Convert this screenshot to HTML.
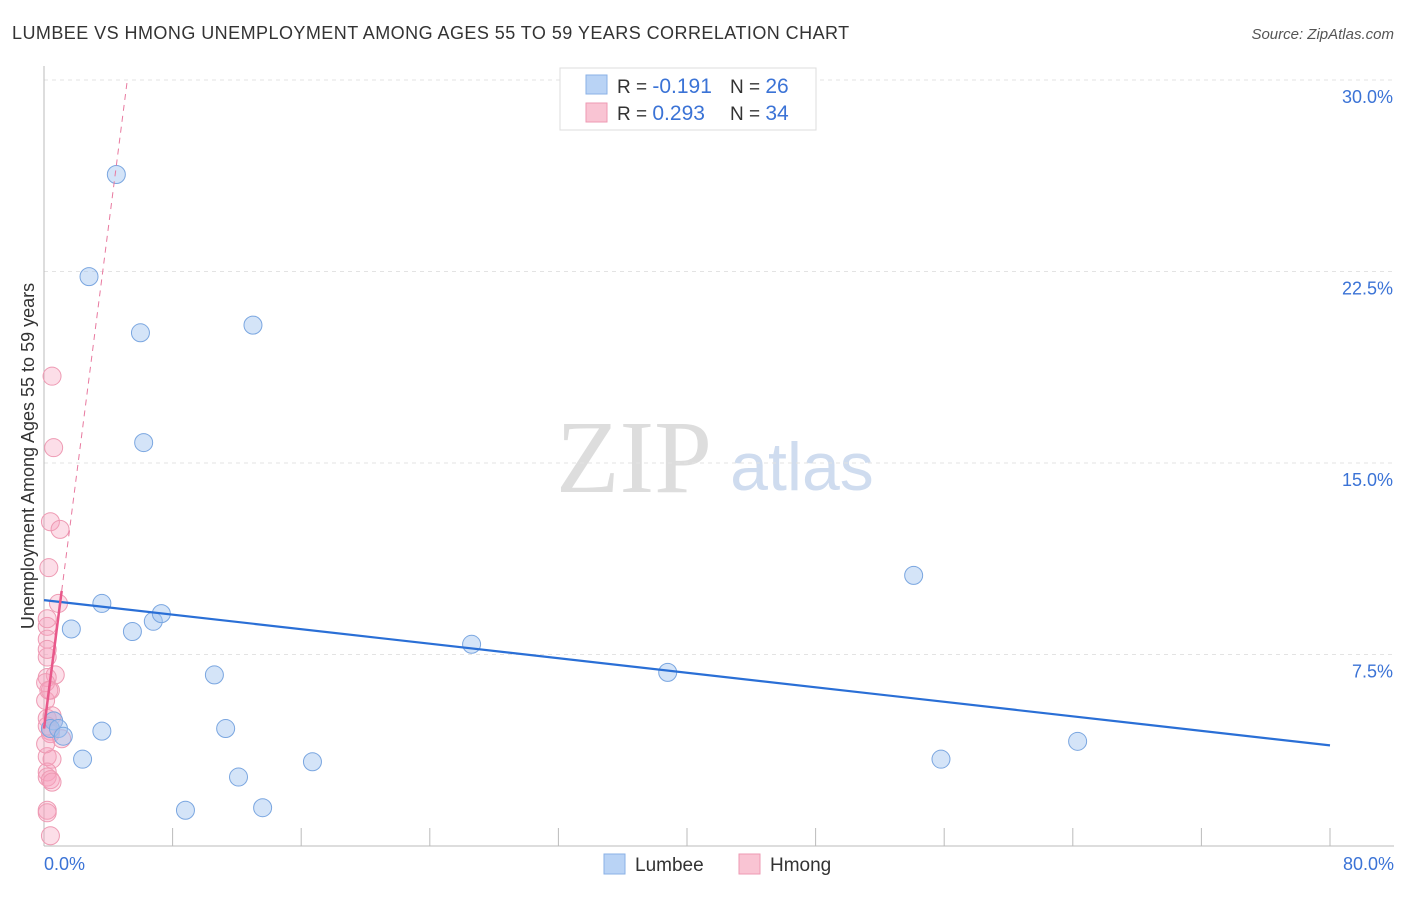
<!DOCTYPE html>
<html><head><meta charset="utf-8"><style>
body{margin:0;background:#fff;font-family:"Liberation Sans",sans-serif;}
#wrap{position:relative;width:1406px;height:892px;}
</style></head><body>
<div id="wrap">
<svg id="chart" width="1406" height="892" xmlns="http://www.w3.org/2000/svg">
<text x="12" y="39" font-size="18" letter-spacing="0.45" fill="#333">LUMBEE VS HMONG UNEMPLOYMENT AMONG AGES 55 TO 59 YEARS CORRELATION CHART</text>
<text x="1394" y="39" font-size="15" fill="#555" font-style="italic" text-anchor="end">Source: ZipAtlas.com</text>
<text x="634" y="492" font-size="104" fill="#ddd" font-family="Liberation Serif" text-anchor="middle">ZIP</text>
<text x="802" y="490" font-size="68" fill="#cfdcef" text-anchor="middle">atlas</text>
<text transform="translate(34,456) rotate(-90)" font-size="18" fill="#333" text-anchor="middle">Unemployment Among Ages 55 to 59 years</text>
<g id="grid"></g><g id="marks"></g>
<g>
<rect x="560" y="68" width="256" height="62" fill="#fff" stroke="#ddd"/>
<rect x="586" y="75" width="21" height="19" fill="#b9d3f5" stroke="#8ab0e6"/>
<rect x="586" y="103" width="21" height="19" fill="#f9c4d3" stroke="#ee9ab3"/>
<text x="617" y="93" font-size="19" fill="#333">R = <tspan fill="#3b73d6" font-size="21">-0.191</tspan></text>
<text x="730" y="93" font-size="19" fill="#333">N = <tspan fill="#3b73d6" font-size="21">26</tspan></text>
<text x="617" y="120" font-size="19" fill="#333">R = <tspan fill="#3b73d6" font-size="21">0.293</tspan></text>
<text x="730" y="120" font-size="19" fill="#333">N = <tspan fill="#3b73d6" font-size="21">34</tspan></text>
</g>
<g>
<rect x="604" y="854" width="21" height="20" fill="#b9d3f5" stroke="#8ab0e6"/>
<text x="635" y="871" font-size="19" fill="#333">Lumbee</text>
<rect x="739" y="854" width="21" height="20" fill="#f9c4d3" stroke="#ee9ab3"/>
<text x="770" y="871" font-size="19" fill="#333">Hmong</text>
</g>
</svg></div>
<script>
const yTicks=[7.5,15,22.5,30];
const yTickLabels=["7.5%","15.0%","22.5%","30.0%"];
const xTickLabels=["0.0%","80.0%"];
const lumbeeX=[4.5,2.8,6.0,13.0,6.2,54.1,3.6,1.7,5.5,6.8,7.3,26.6,10.6,38.8,0.6,0.4,0.9,1.2,3.6,11.3,64.3,2.4,16.7,55.8,12.1,8.8,13.6];
const lumbeeY=[26.3,22.3,20.1,20.4,15.8,10.6,9.5,8.5,8.4,8.8,9.1,7.9,6.7,6.8,4.9,4.6,4.6,4.3,4.5,4.6,4.1,3.4,3.3,3.4,2.7,1.4,1.5];
const hmongX=[0.5,0.6,0.4,1.0,0.3,0.9,0.2,0.2,0.2,0.7,0.2,0.4,0.1,0.2,0.5,0.6,0.4,1.1,0.2,0.5,0.2,0.2,0.4,0.5,0.2,0.2,0.4,0.2,0.1,0.2,0.4,0.1,0.3,0.2];
const hmongY=[18.4,15.6,12.7,12.4,10.9,9.5,8.6,8.1,7.4,6.7,6.6,6.1,5.7,5.0,5.1,4.9,4.5,4.2,3.5,3.4,2.9,2.7,2.6,2.5,1.4,1.3,0.4,7.7,6.4,4.7,4.4,4.0,6.1,8.9];
const lumbeeTrend=[9.63,3.94];
const hmongTrend=[4.6,4.9];
const X=v=>44+v/80*1286, Y=v=>846-v/30*766;
const NS="http://www.w3.org/2000/svg";
const grid=document.getElementById('grid'), marks=document.getElementById('marks');
function mk(tag,attrs,parent){const e=document.createElementNS(NS,tag);for(const k in attrs)e.setAttribute(k,attrs[k]);parent.appendChild(e);return e;}
yTicks.forEach((t,i)=>{
 const l=mk('line',{x1:44,x2:1394,y1:Y(t),y2:Y(t),stroke:'#e3e3e3','stroke-dasharray':'4,4'},grid);
 
 
 const tx=mk('text',{x:1393,y:Y(t)+23,'font-size':18,fill:'#3b73d6','text-anchor':'end'},grid);
 tx.textContent=yTickLabels[i];
 
 
});
const ax=mk('line',{x1:44,x2:1394,y1:846,y2:846,stroke:'#bbb'},grid);


const ay=mk('line',{x1:44,x2:44,y1:66,y2:846,stroke:'#bbb'},grid);


for(let i=1;i<=10;i++){const t=mk('line',{x1:X(i*8),x2:X(i*8),y1:828,y2:846,stroke:'#bbb'},grid);
 
 }
[[0,'start',44],[80,'end',1394]].forEach((d,i)=>{const t=mk('text',{x:d[2],y:870,'font-size':18,fill:'#3b73d6','text-anchor':d[1]},grid);
 t.textContent=xTickLabels[i];
 
 });
hmongX.forEach((x,i)=>{const c=mk('circle',{cx:X(x),cy:Y(hmongY[i]),r:9,fill:'rgba(246,160,188,0.35)',stroke:'#ee9ab3','stroke-width':1},marks);
 
 });
lumbeeX.forEach((x,i)=>{const c=mk('circle',{cx:X(x),cy:Y(lumbeeY[i]),r:9,fill:'rgba(160,196,240,0.45)',stroke:'#7aa6e0','stroke-width':1},marks);
 
 });
const lt=mk('line',{x1:X(0),y1:Y(lumbeeTrend[0]),x2:X(80),y2:Y(lumbeeTrend[1]),stroke:'#2a6fd6','stroke-width':2.2},marks);


const hy=x=>hmongTrend[0]+hmongTrend[1]*x;
const hs=mk('line',{x1:X(0),y1:Y(hy(0)),x2:X(1.1),y2:Y(hy(1.1)),stroke:'#e8588a','stroke-width':2.5},marks);


const xe=(30-hmongTrend[0])/hmongTrend[1];
const hd=mk('line',{x1:X(1.1),y1:Y(hy(1.1)),x2:X(xe),y2:Y(30),stroke:'#e8799f','stroke-width':1,'stroke-dasharray':'6,5'},marks);


</script>
</body></html>
